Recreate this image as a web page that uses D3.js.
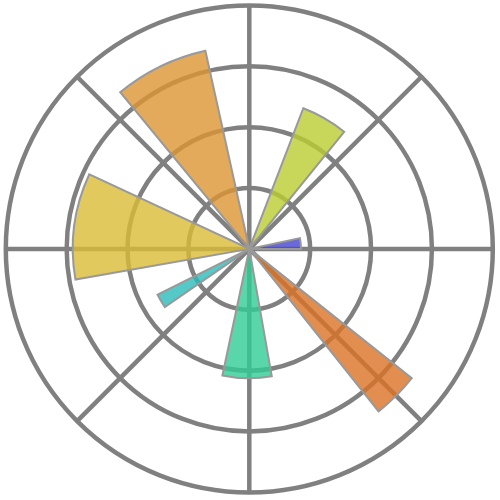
<!DOCTYPE html>
<html>
<head>
<meta charset="utf-8">
<script src="https://cdn.jsdelivr.net/npm/d3@7"></script>
<style>
  body { margin: 0; background: #fff; }
</style>
</head>
<body>
<svg id="svg1" width="500" height="500"></svg>
<script>
var svg = d3.select('#svg1');

// bar data (angles in degrees, counter-clockwise from east)
var barStart = [0, 51, 102.5, 155, 206.5, 258, 308.5];
var barWidth = [12, 18, 27, 35, 8, 22, 13];
var barRadius = [1.7, 4.95, 6.67, 5.8, 3.37, 4.25, 6.82];
var barColors = ['#4545d1', '#bacd31', '#db9531', '#dbbb36', '#2ababa', '#31cd95', '#db7224'];

var ringTicks = [2, 4, 6, 8];
var spokeAngles = [0, 45, 90, 135, 180, 225, 270, 315];

var cx = 249.3, cy = 248.9;
var outerR = 243.5;

var rScale = d3.scaleLinear()
    .domain([0, 8])
    .range([0, outerR]);

var toRad = function(deg) { return deg * Math.PI / 180; };

var g = svg.append('g')
    .attr('transform', 'translate(' + [cx, cy] + ')');

// grid below the bars
var grid = g.append('g').attr('class', 'grid');

grid.selectAll('circle')
    .data(ringTicks)
    .enter()
    .append('circle')
      .attr('r', function(d) { return rScale(d); })
      .style('fill', 'none')
      .style('stroke', '#808080')
      .style('stroke-width', 4.5);

grid.selectAll('line')
    .data(spokeAngles)
    .enter()
    .append('line')
      .attr('x1', 0)
      .attr('y1', 0)
      .attr('x2', function(d) { return rScale(8) * Math.cos(toRad(d)); })
      .attr('y2', function(d) { return -rScale(8) * Math.sin(toRad(d)); })
      .style('stroke', '#808080')
      .style('stroke-width', 4.5);

var bars = barStart.map(function(s, i) {
    return {start: s, width: barWidth[i], r: barRadius[i], color: barColors[i]};
});

var arc = d3.arc()
    .innerRadius(0)
    .outerRadius(function(d) { return rScale(d.r); })
    // d3 measures clockwise from 12 o'clock
    .startAngle(function(d) { return toRad(90 - d.start - d.width); })
    .endAngle(function(d) { return toRad(90 - d.start); });

g.append('g')
    .attr('class', 'bars')
    .selectAll('path')
    .data(bars)
    .enter()
    .append('path')
      .attr('d', arc)
      .style('fill', function(d) { return d.color; })
      .style('fill-opacity', 0.8)
      .style('stroke', '#999999')
      .style('stroke-width', 2)
      .style('stroke-linejoin', 'miter');
</script>
</body>
</html>
